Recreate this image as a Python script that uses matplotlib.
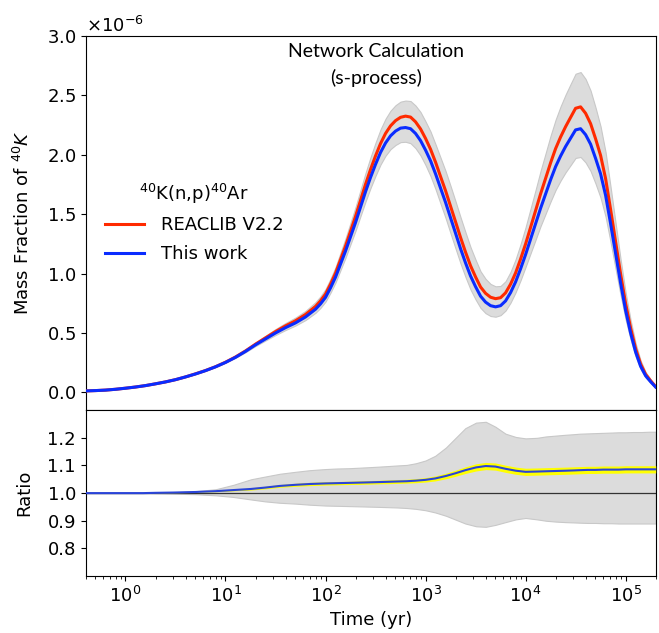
import numpy as np
import matplotlib
matplotlib.use('Agg')
import matplotlib.pyplot as plt

# ------------------------------------------------------------------------------
# top panel data (mass fraction in units of 1e-6)
# time given as log10(yr)

log_time_top = [-0.4, -0.3, -0.2, -0.1, 0.0, 0.1, 0.2, 0.3, 0.4, 0.5, 0.6, 0.7,
                0.8, 0.9, 1.0, 1.1, 1.2, 1.3, 1.4, 1.5, 1.6, 1.7, 1.8, 1.9, 1.95,
                2.0, 2.05, 2.1, 2.15, 2.2, 2.25, 2.3, 2.35, 2.4, 2.45, 2.5, 2.55,
                2.6, 2.65, 2.7, 2.75, 2.8, 2.85, 2.9, 2.95, 3.0, 3.05, 3.1, 3.15,
                3.2, 3.25, 3.3, 3.35, 3.4, 3.45, 3.5, 3.55, 3.6, 3.65, 3.7, 3.75,
                3.8, 3.85, 3.9, 3.95, 4.0, 4.05, 4.1, 4.15, 4.2, 4.25, 4.3, 4.35,
                4.4, 4.45, 4.5, 4.55, 4.6, 4.65, 4.7, 4.75, 4.8, 4.85, 4.9, 4.95,
                5.0, 5.05, 5.1, 5.15, 5.2, 5.25, 5.3]

this_work = [0.012, 0.015, 0.019, 0.026, 0.035, 0.045, 0.057, 0.072, 0.088,
             0.107, 0.13, 0.155, 0.183, 0.215, 0.252, 0.295, 0.345, 0.40, 0.45,
             0.50, 0.545, 0.585, 0.635, 0.70, 0.745, 0.80, 0.88, 0.97, 1.08,
             1.19, 1.31, 1.43, 1.56, 1.69, 1.81, 1.92, 2.02, 2.10, 2.16, 2.20,
             2.225, 2.23, 2.22, 2.18, 2.12, 2.04, 1.95, 1.84, 1.72, 1.60, 1.47,
             1.34, 1.21, 1.09, 0.98, 0.89, 0.81, 0.76, 0.73, 0.72, 0.73, 0.77,
             0.84, 0.93, 1.04, 1.16, 1.29, 1.42, 1.55, 1.67, 1.79, 1.90, 1.99,
             2.07, 2.14, 2.21, 2.22, 2.17, 2.09, 1.97, 1.84, 1.66, 1.42, 1.17,
             0.92, 0.69, 0.50, 0.34, 0.22, 0.14, 0.09, 0.045]

reaclib = [0.012, 0.015, 0.019, 0.026, 0.035, 0.045, 0.057, 0.072, 0.088,
           0.107, 0.130, 0.156, 0.184, 0.216, 0.254, 0.298, 0.349, 0.406, 0.459,
           0.512, 0.560, 0.603, 0.656, 0.724, 0.771, 0.828, 0.911, 1.004, 1.118,
           1.232, 1.357, 1.482, 1.617, 1.752, 1.877, 1.991, 2.095, 2.180, 2.244,
           2.288, 2.316, 2.326, 2.318, 2.278, 2.218, 2.138, 2.047, 1.938, 1.817,
           1.698, 1.567, 1.436, 1.304, 1.180, 1.066, 0.972, 0.887, 0.834, 0.801,
           0.789, 0.797, 0.838, 0.911, 1.005, 1.122, 1.249, 1.389, 1.530, 1.671,
           1.801, 1.932, 2.052, 2.150, 2.237, 2.315, 2.392, 2.404, 2.350, 2.263,
           2.135, 1.995, 1.800, 1.540, 1.269, 0.998, 0.749, 0.543, 0.369, 0.239,
           0.152, 0.098, 0.049]

band_top_hi = [0.012, 0.015, 0.019, 0.026, 0.035, 0.045, 0.057, 0.072, 0.088,
               0.107, 0.131, 0.156, 0.185, 0.218, 0.257, 0.303, 0.358, 0.420,
               0.476, 0.533, 0.584, 0.630, 0.686, 0.760, 0.809, 0.870, 0.957,
               1.055, 1.176, 1.297, 1.428, 1.560, 1.704, 1.847, 1.980, 2.102,
               2.214, 2.304, 2.372, 2.418, 2.448, 2.457, 2.453, 2.415, 2.360,
               2.281, 2.196, 2.088, 1.976, 1.864, 1.738, 1.608, 1.474, 1.346,
               1.222, 1.117, 1.019, 0.956, 0.913, 0.893, 0.896, 0.936, 1.015,
               1.119, 1.248, 1.390, 1.547, 1.704, 1.865, 2.012, 2.161, 2.295,
               2.408, 2.507, 2.596, 2.683, 2.697, 2.639, 2.541, 2.397, 2.239,
               2.022, 1.730, 1.426, 1.121, 0.842, 0.610, 0.415, 0.269, 0.171,
               0.110, 0.055]

band_top_lo = [0.012, 0.015, 0.019, 0.026, 0.035, 0.045, 0.057, 0.072, 0.088,
               0.107, 0.129, 0.154, 0.182, 0.213, 0.249, 0.291, 0.338, 0.390,
               0.437, 0.483, 0.525, 0.563, 0.609, 0.670, 0.712, 0.764, 0.840,
               0.925, 1.030, 1.134, 1.248, 1.361, 1.485, 1.607, 1.721, 1.824,
               1.919, 1.993, 2.048, 2.083, 2.107, 2.110, 2.098, 2.056, 1.995,
               1.914, 1.821, 1.711, 1.589, 1.469, 1.339, 1.211, 1.085, 0.970,
               0.866, 0.783, 0.711, 0.667, 0.643, 0.637, 0.650, 0.689, 0.756,
               0.842, 0.944, 1.056, 1.171, 1.285, 1.400, 1.503, 1.607, 1.704,
               1.783, 1.853, 1.913, 1.974, 1.982, 1.936, 1.864, 1.757, 1.639,
               1.479, 1.265, 1.041, 0.819, 0.614, 0.445, 0.303, 0.196, 0.125,
               0.080, 0.040]

# ------------------------------------------------------------------------------
# ratio panel data (REACLIB / this work)

time_yr = [0.4, 0.6, 1, 1.5, 2, 3, 5, 8, 12, 18, 25, 35, 50, 70, 100, 130, 170,
           220, 280, 350, 430, 520, 650, 800, 1000, 1250, 1600, 2000, 2500, 3200,
           4000, 5000, 6300, 8000, 10000, 13000, 16000, 20000, 25000, 30000,
           35000, 42000, 50000, 60000, 72000, 85000, 100000, 120000, 145000,
           170000, 200000]

ratio = [1.0, 1.0, 1.0, 1.0, 1.001, 1.002, 1.004, 1.007, 1.011, 1.015, 1.02,
         1.026, 1.03, 1.033, 1.035, 1.036, 1.037, 1.038, 1.039, 1.04, 1.041,
         1.042, 1.043, 1.045, 1.048, 1.053, 1.062, 1.072, 1.083, 1.093, 1.098,
         1.096, 1.088, 1.081, 1.077, 1.078, 1.079, 1.08, 1.081, 1.082, 1.083,
         1.084, 1.084, 1.085, 1.085, 1.085, 1.086, 1.086, 1.086, 1.086, 1.086]

ratio_band_hi = [1.0, 1.0, 1.0, 1.0, 1.001, 1.003, 1.007, 1.014, 1.03, 1.05,
                 1.06, 1.07, 1.077, 1.083, 1.087, 1.089, 1.09, 1.092, 1.094,
                 1.096, 1.098, 1.10, 1.102, 1.108, 1.118, 1.135, 1.165, 1.20,
                 1.235, 1.255, 1.258, 1.24, 1.215, 1.203, 1.198, 1.20, 1.205,
                 1.208, 1.211, 1.213, 1.215, 1.216, 1.217, 1.218, 1.219, 1.22,
                 1.22, 1.221, 1.221, 1.222, 1.222]

ratio_band_lo = [1.0, 1.0, 1.0, 1.0, 0.999, 0.998, 0.996, 0.992, 0.986, 0.977,
                 0.97, 0.965, 0.962, 0.958, 0.955, 0.954, 0.953, 0.952, 0.951,
                 0.95, 0.949, 0.948, 0.946, 0.943, 0.938, 0.93, 0.918, 0.904,
                 0.89, 0.88, 0.878, 0.885, 0.895, 0.905, 0.91, 0.905, 0.90,
                 0.897, 0.895, 0.894, 0.893, 0.892, 0.892, 0.891, 0.891, 0.89,
                 0.89, 0.89, 0.89, 0.89, 0.89]

# half width of the narrow yellow band around the ratio
yellow_hw = [0.0, 0.0, 0.0, 0.0, 0.0005, 0.001, 0.0015, 0.002, 0.003, 0.004,
             0.0045, 0.005, 0.0055, 0.006, 0.006, 0.006, 0.006, 0.0065,
             0.0065, 0.0065, 0.007, 0.007, 0.007, 0.0075, 0.008, 0.009, 0.010,
             0.011, 0.012, 0.013, 0.013, 0.013, 0.013, 0.013, 0.013, 0.013,
             0.013, 0.013, 0.013, 0.013, 0.013, 0.013, 0.013, 0.013, 0.013,
             0.013, 0.013, 0.013, 0.013, 0.013, 0.013]

# ------------------------------------------------------------------------------

t_top = 10.0 ** np.array(log_time_top)
t = np.array(time_yr)
r = np.array(ratio)
hw = np.array(yellow_hw)

GREY = '#dcdcdc'
GREY_EDGE = '#c8c8c8'

fig = plt.figure(figsize=(6.59, 6.33), dpi=100)
ax1 = fig.add_axes([0.130, 0.352, 0.865, 0.591])
ax2 = fig.add_axes([0.130, 0.090, 0.865, 0.262], sharex=ax1)

# top panel
ax1.fill_between(t_top, np.array(band_top_lo) * 1e-6, np.array(band_top_hi) * 1e-6,
                 color=GREY, edgecolor=GREY_EDGE, lw=0.8, zorder=1)
ax1.plot(t_top, np.array(reaclib) * 1e-6, color='#ff2a00', lw=2.2,
         label='REACLIB V2.2', zorder=3)
ax1.plot(t_top, np.array(this_work) * 1e-6, color='#0a2cff', lw=2.2,
         label='This work', zorder=4)

ax1.set_xscale('log')
ax1.set_xlim(0.4, 2.0e5)
ax1.set_ylim(-0.15e-6, 3.0e-6)
ax1.set_yticks(np.arange(0, 3.01e-6, 0.5e-6))
ax1.ticklabel_format(axis='y', style='sci', scilimits=(0, 0), useMathText=True)
ax1.yaxis.get_offset_text().set_fontsize(13)
ax1.tick_params(axis='y', labelsize=13)
ax1.tick_params(axis='x', which='both', labelbottom=False, bottom=False)
ax1.set_ylabel(r'Mass Fraction of $^{40}K$', fontsize=13)
ax1.yaxis.set_label_coords(-0.092, 0.5)

leg = ax1.legend(loc='center left', bbox_to_anchor=(0.005, 0.502), frameon=False,
                 title=r'$^{40}$K(n,p)$^{40}$Ar', fontsize=13, title_fontsize=13,
                 handlelength=2.2, handletextpad=0.9, labelspacing=0.6)

ax1.text(0.51, 0.982, 'Network Calculation\n(s-process)', transform=ax1.transAxes,
         ha='center', va='top', fontsize=14, family='Lato', linespacing=1.6)

# bottom panel
ax2.fill_between(t, ratio_band_lo, ratio_band_hi, color=GREY, edgecolor=GREY_EDGE,
                 lw=0.8, zorder=1)
ax2.axhline(1.0, color='#333333', lw=0.9, zorder=2)
ax2.fill_between(t, r - hw, r + hw, color='yellow', lw=0, zorder=3)
ax2.plot(t, r, color='#2a44d8', lw=1.5, zorder=4)

ax2.set_ylim(0.7, 1.3)
ax2.set_yticks([0.8, 0.9, 1.0, 1.1, 1.2])
ax2.tick_params(labelsize=13)
ax2.set_ylabel('Ratio', fontsize=13)
ax2.yaxis.set_label_coords(-0.092, 0.5)
ax2.set_xlabel('Time (yr)', fontsize=13)

plt.savefig('out.png', dpi=100)
